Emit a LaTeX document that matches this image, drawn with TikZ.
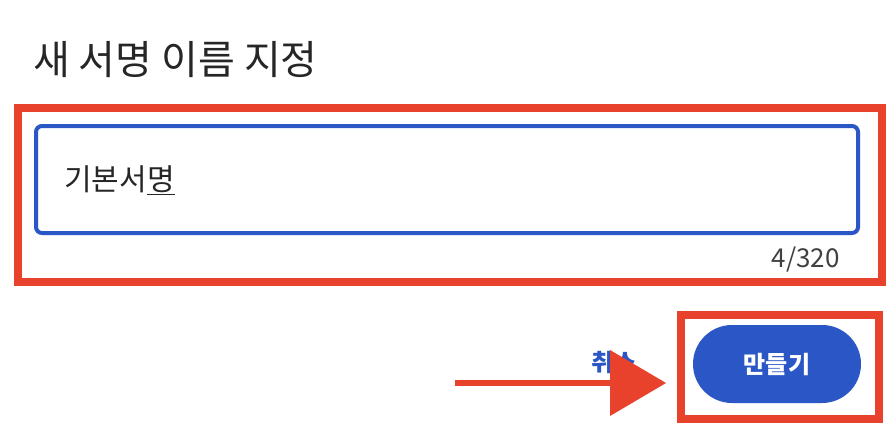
\documentclass[tikz,border=0pt]{standalone}
\usepackage{fontspec}
\setmainfont{Noto Sans CJK KR}
\definecolor{redb}{HTML}{E8412C}
\definecolor{blueb}{HTML}{2A56C6}
\begin{document}
\begin{tikzpicture}[x=1pt,y=-1pt,
  redframe/.style={draw=redb,line width=8pt},
  txt/.style={inner sep=0pt,anchor=west}]
\useasboundingbox (0,0) rectangle (896,436);
\fill[white] (0,0) rectangle (896,436);
\node[txt,font=\fontsize{40}{48}\selectfont,text=black!85] (title) at (33,60) {새 서명 이름 지정};
\node[redframe,minimum width=864pt,minimum height=174pt,anchor=north west] (frame1) at (14,104) {};
\draw[blueb,line width=4pt,rounded corners=6pt] (36,126) rectangle (858,233);
\node[txt,font=\fontsize{30}{36}\selectfont,text=black!85] (val) at (64,180) {기본서\underline{명}};
\node[inner sep=0pt,anchor=east,font=\fontsize{26}{30}\selectfont,text=black!75] (cnt) at (840,260) {4/320};
\node[redframe,minimum width=198pt,minimum height=104pt,anchor=north west] (frame2) at (677,311) {};
\node[fill=blueb,rounded corners=39pt,minimum width=168pt,minimum height=78pt,text=white,font=\fontsize{24}{28}\selectfont\bfseries] (btn) at (777,364) {만들기};
\node[text=blueb,font=\fontsize{24}{28}\selectfont\bfseries] (cancel) at (614,362) {취소};
\coordinate (a0) at (455,383);
\coordinate (a1) at (615,383);
\draw[redb,line width=6pt] (a0) -- (a1);
\fill[redb] (610,350) -- (666,383) -- (610,416) -- cycle;
\end{tikzpicture}
\end{document}
